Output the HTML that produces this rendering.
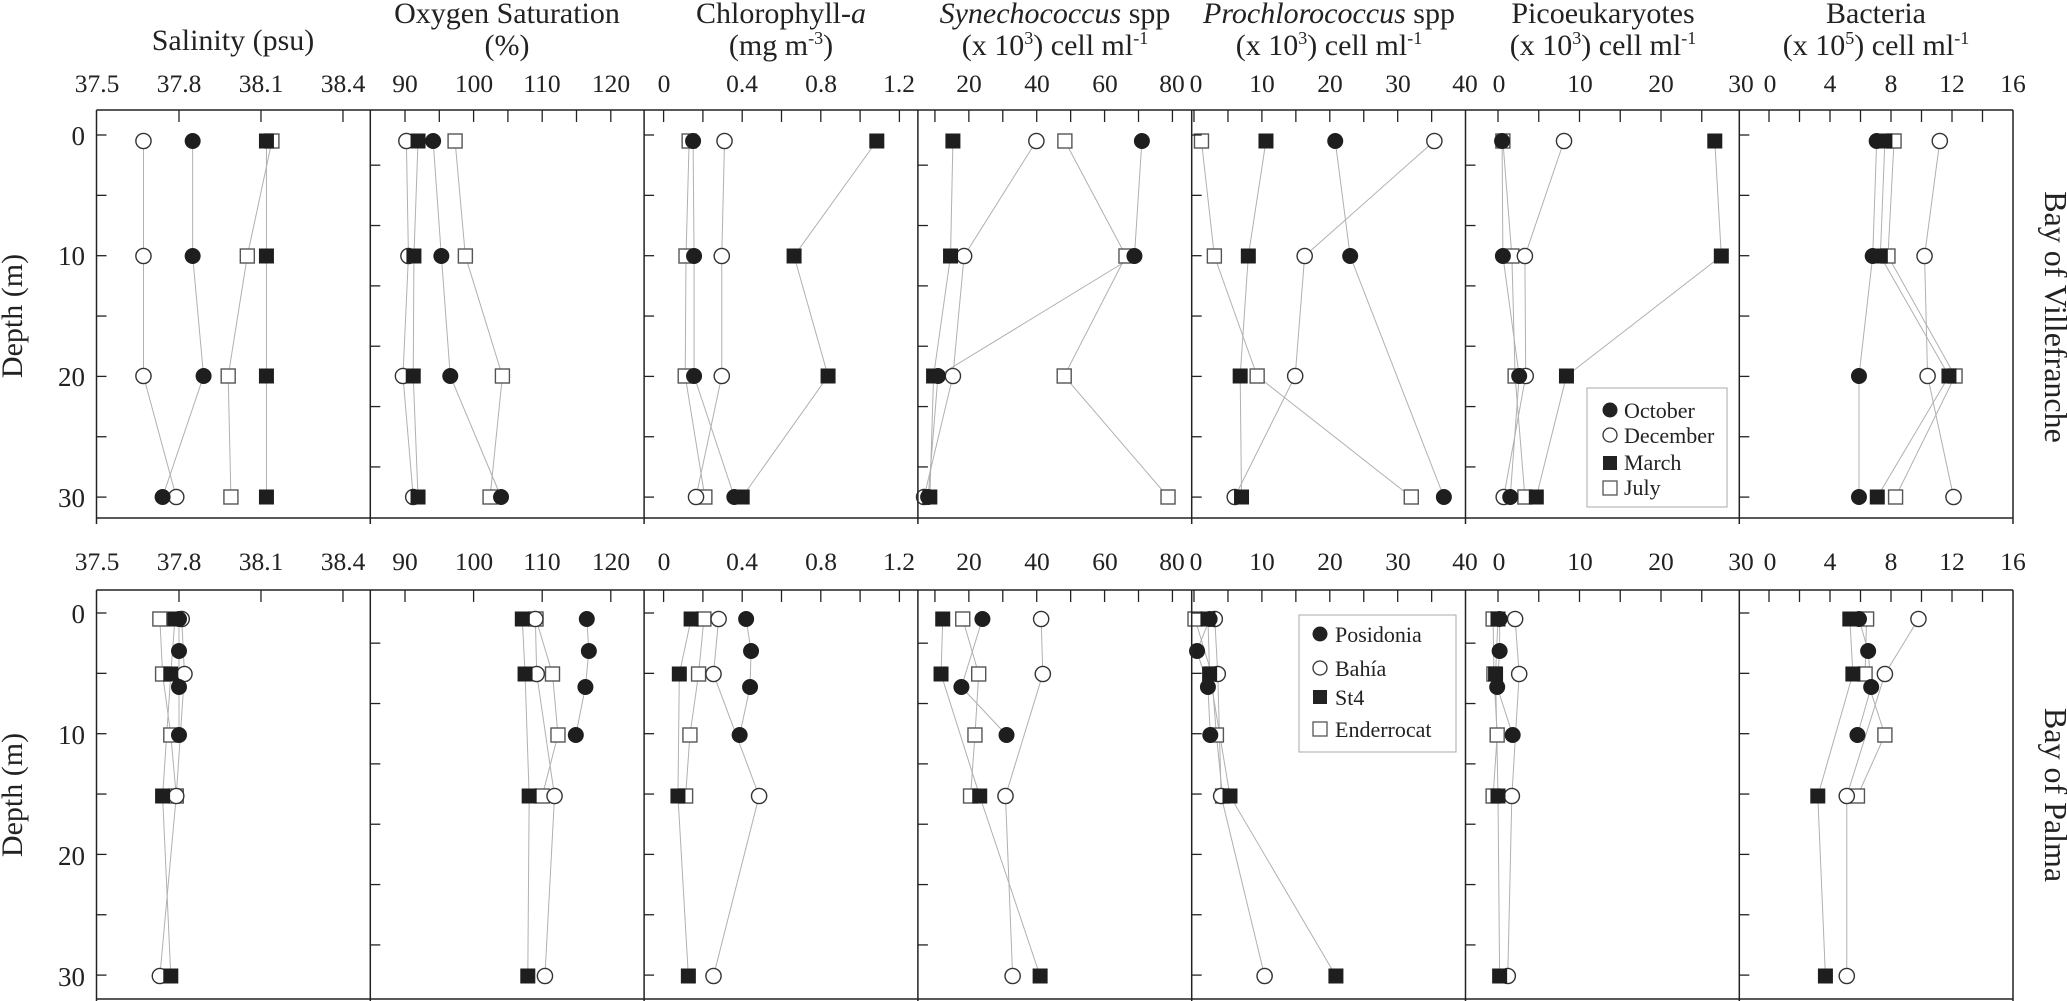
<!DOCTYPE html>
<html><head><meta charset="utf-8"><style>
html,body{margin:0;padding:0;background:#fff}
svg{display:block}
text{font-family:"Liberation Serif",serif;fill:#222}
.t{font-size:30px;text-anchor:middle}
.k{font-size:25.5px;text-anchor:middle}
.d{font-size:27px;text-anchor:end}
.l{font-size:22px}
</style></head><body>
<svg id="s" width="2067" height="1001" viewBox="0 0 2067 1001" xmlns="http://www.w3.org/2000/svg">
<rect width="2067" height="1001" fill="#fff"/>
<g id="lines"></g><g id="marks"></g><g id="axes"></g>
<text class="t" x="233" y="50">Salinity (psu)</text>
<text class="t" x="507" y="23">Oxygen Saturation</text>
<text class="t" x="507" y="55">(%)</text>
<text class="t" x="781" y="23">Chlorophyll-<tspan font-style="italic">a</tspan></text>
<text class="t" x="781" y="55">(mg m<tspan font-size="18" dy="-11">-3</tspan><tspan dy="11">)</tspan></text>
<text class="t" x="1055" y="23"><tspan font-style="italic">Synechococcus</tspan> spp</text>
<text class="t" x="1055" y="55">(x 10<tspan font-size="18" dy="-11">3</tspan><tspan dy="11">) cell ml</tspan><tspan font-size="18" dy="-11">-1</tspan></text>
<text class="t" x="1329" y="23"><tspan font-style="italic">Prochlorococcus</tspan> spp</text>
<text class="t" x="1329" y="55">(x 10<tspan font-size="18" dy="-11">3</tspan><tspan dy="11">) cell ml</tspan><tspan font-size="18" dy="-11">-1</tspan></text>
<text class="t" x="1603" y="23">Picoeukaryotes</text>
<text class="t" x="1603" y="55">(x 10<tspan font-size="18" dy="-11">3</tspan><tspan dy="11">) cell ml</tspan><tspan font-size="18" dy="-11">-1</tspan></text>
<text class="t" x="1876" y="23">Bacteria</text>
<text class="t" x="1876" y="55">(x 10<tspan font-size="18" dy="-11">5</tspan><tspan dy="11">) cell ml</tspan><tspan font-size="18" dy="-11">-1</tspan></text>
<g transform="translate(0,92)">
<text class="k" x="97">37.5</text><text class="k" x="179">37.8</text><text class="k" x="261">38.1</text><text class="k" x="343">38.4</text>
<text class="k" x="405">90</text><text class="k" x="474">100</text><text class="k" x="542">110</text><text class="k" x="611">120</text>
<text class="k" x="664">0</text><text class="k" x="742">0.4</text><text class="k" x="821">0.8</text><text class="k" x="899">1.2</text>
<text class="k" x="969">20</text><text class="k" x="1037">40</text><text class="k" x="1105">60</text><text class="k" x="1172">80</text>
<text class="k" x="1196">0</text><text class="k" x="1262">10</text><text class="k" x="1330">20</text><text class="k" x="1398">30</text><text class="k" x="1465">40</text>
<text class="k" x="1499">0</text><text class="k" x="1580">10</text><text class="k" x="1661">20</text><text class="k" x="1741">30</text>
<text class="k" x="1770">0</text><text class="k" x="1830">4</text><text class="k" x="1891">8</text><text class="k" x="1952">12</text><text class="k" x="2013">16</text>
</g>
<g transform="translate(0,570)">
<text class="k" x="97">37.5</text><text class="k" x="179">37.8</text><text class="k" x="261">38.1</text><text class="k" x="343">38.4</text>
<text class="k" x="405">90</text><text class="k" x="474">100</text><text class="k" x="542">110</text><text class="k" x="611">120</text>
<text class="k" x="664">0</text><text class="k" x="742">0.4</text><text class="k" x="821">0.8</text><text class="k" x="899">1.2</text>
<text class="k" x="969">20</text><text class="k" x="1037">40</text><text class="k" x="1105">60</text><text class="k" x="1172">80</text>
<text class="k" x="1196">0</text><text class="k" x="1262">10</text><text class="k" x="1330">20</text><text class="k" x="1398">30</text><text class="k" x="1465">40</text>
<text class="k" x="1499">0</text><text class="k" x="1580">10</text><text class="k" x="1661">20</text><text class="k" x="1741">30</text>
<text class="k" x="1770">0</text><text class="k" x="1830">4</text><text class="k" x="1891">8</text><text class="k" x="1952">12</text><text class="k" x="2013">16</text>
</g>
<text class="d" x="85" y="145">0</text><text class="d" x="85" y="265">10</text><text class="d" x="85" y="386">20</text><text class="d" x="85" y="507">30</text>
<text class="d" x="85" y="623">0</text><text class="d" x="85" y="744">10</text><text class="d" x="85" y="865">20</text><text class="d" x="85" y="986">30</text>
<text class="t" transform="translate(22,316) rotate(-90)">Depth (m)</text>
<text class="t" transform="translate(22,795) rotate(-90)">Depth (m)</text>
<text class="t" style="font-size:32px" transform="translate(2045,317) rotate(90)">Bay of Villefranche</text>
<text class="t" style="font-size:32px" transform="translate(2045,795) rotate(90)">Bay of Palma</text>
<rect x="1587" y="388" width="140" height="119" fill="#fff" stroke="#aaa" stroke-width="1"/>
<circle cx="1610" cy="410" r="7.5" fill="#222"/><text class="l" x="1624" y="418">October</text>
<circle cx="1610" cy="435" r="7" fill="#fff" stroke="#333" stroke-width="1.3"/><text class="l" x="1624" y="443">December</text>
<rect x="1603" y="456" width="14" height="14" fill="#222"/><text class="l" x="1624" y="470">March</text>
<rect x="1603" y="481" width="14" height="14" fill="#fff" stroke="#555" stroke-width="1.3"/><text class="l" x="1624" y="495">July</text>
<rect x="1299" y="615" width="157" height="137" fill="#fff" stroke="#aaa" stroke-width="1"/>
<circle cx="1320" cy="634" r="7.5" fill="#222"/><text class="l" x="1335" y="642">Posidonia</text>
<circle cx="1320" cy="668" r="7" fill="#fff" stroke="#333" stroke-width="1.3"/><text class="l" x="1335" y="676">Bahía</text>
<rect x="1313" y="690" width="14" height="14" fill="#222"/><text class="l" x="1335" y="705">St4</text>
<rect x="1313" y="722" width="14" height="14" fill="#fff" stroke="#555" stroke-width="1.3"/><text class="l" x="1335" y="737">Enderrocat</text>
</svg>
<script>
(function(){
const NS="http://www.w3.org/2000/svg";
function el(p,t,a){const e=document.createElementNS(NS,t);for(const k in a)e.setAttribute(k,a[k]);p.appendChild(e);return e;}
const L=document.getElementById('lines'),M=document.getElementById('marks'),A=document.getElementById('axes');
const X0=96.5,W=273.8,R=2013;
const maps=[v=>97+273.3*(v-37.5),v=>405+6.86*(v-90),v=>663.6+196.5*v,v=>901+3.393*v,v=>1194+6.79*v,v=>1498+8.15*v,v=>1769+15.25*v];
const rows=[{top:110,bot:518,d0:135,yd:{0:141,10:256,20:376,30:497}},{top:590,bot:999,d0:613,yd:{0:619,2.5:651,5:674,6:687,10:735,15:796,30:976}}];
const xt=[[[37.8,38.1,38.4]],[[90,95,100,105,110,115,120],[90,100,110,120]],[[0,.2,.4,.6,.8,1,1.2]],[[10,20,30,40,50,60,70,80]],[[0,5,10,15,20,25,30,35]],[[0,5,10,15,20,25]],[[0,2,4,6,8,10,12,14]]];
rows.forEach((r,ri)=>{
 for(let i=0;i<7;i++){
  const x=X0+W*i;
  el(A,'line',{x1:x,y1:r.top,x2:x,y2:r.bot,stroke:'#222','stroke-width':1.5});
  el(A,'line',{x1:x,y1:r.bot,x2:x,y2:r.bot+6,stroke:'#222','stroke-width':1.5});
  const off=(i%2==0)?0:2.5;
  for(let d=off-5;d<=32;d+=5){const y=r.d0+12.07*d;if(y>r.top+3&&y<r.bot-3)el(A,'line',{x1:x,y1:y,x2:x+10,y2:y,stroke:'#222','stroke-width':1.3});}
  const tv=xt[i][ri]||xt[i][0];
  tv.forEach(v=>{const tx=maps[i](v);el(A,'line',{x1:tx,y1:r.top,x2:tx,y2:r.top+12,stroke:'#222','stroke-width':1.3});});
 }
 el(A,'line',{x1:R,y1:r.top,x2:R,y2:r.bot,stroke:'#222','stroke-width':1.5});
 el(A,'line',{x1:R,y1:r.bot,x2:R,y2:r.bot+6,stroke:'#222','stroke-width':1.5});
 el(A,'line',{x1:X0,y1:r.top,x2:R,y2:r.top,stroke:'#222','stroke-width':1.5});
 el(A,'line',{x1:X0,y1:r.bot,x2:R,y2:r.bot,stroke:'#222','stroke-width':1.5});
});
const D4=[0,10,20,30];
function z(vals,ds){return vals.map((v,k)=>[v,ds[k]]);}
const topD=[
 {fc:z([37.85,37.85,37.89,37.74],D4),oc:z([37.67,37.67,37.67,37.79],D4),fs:z([38.12,38.12,38.12,38.12],D4),os:z([38.14,38.05,37.98,37.99],D4)},
 {fc:z([94.1,95.3,96.6,104],D4),oc:z([90.2,90.5,89.7,91.2],D4),fs:z([91.9,91.3,91.2,91.9],D4),os:z([97.3,98.8,104.2,102.4],D4)},
 {fc:z([.15,.155,.155,.36],D4),oc:z([.31,.296,.296,.165],D4),fs:z([1.085,.664,.837,.40],D4),os:z([.13,.114,.11,.21],D4)},
 {fc:z([71,68.8,10.9,8],D4),oc:z([39.9,18.6,15.3,6.8],D4),fs:z([15.3,14.6,9.6,8.5],D4),os:z([48.3,66.3,48.1,78.7],D4)},
 {fc:z([20.8,23,36.8],[0,10,30]),oc:z([35.4,16.3,14.9,6.0],D4),fs:z([10.6,8,6.8,7],D4),os:z([1.1,3,9.3,32],D4)},
 {fc:z([.5,.6,2.6,1.5],D4),oc:z([8.1,3.3,3.4,.7],D4),fs:z([26.6,27.4,8.4,4.7],D4),os:z([.6,1.7,2.1,3.3],D4)},
 {fc:z([7.06,6.8,5.9,5.9],D4),oc:z([11.2,10.2,10.4,12.1],D4),fs:z([7.6,7.3,11.8,7.1],D4),os:z([8.2,7.8,12.2,8.3],D4)}];
const P=[0,2.5,6,10],S=[0,5,15,30],E=[0,5,10,15];
const botD=[
 {fc:z([37.8,37.8,37.8,37.8],P),oc:z([37.81,37.82,37.79,37.73],S),fs:z([37.785,37.77,37.74,37.77],S),os:z([37.73,37.74,37.77,37.79],E)},
 {fc:z([116.5,116.8,116.3,114.9],P),oc:z([109,109.2,111.8,110.4],S),fs:z([107.1,107.5,108.1,107.9],S),os:z([109.1,111.5,112.3,110],E)},
 {fc:z([.42,.445,.44,.387],P),oc:z([.28,.254,.486,.254],S),fs:z([.14,.08,.073,.126],S),os:z([.205,.178,.134,.112],E)},
 {fc:z([24,17.8,31.1],[0,6,10]),oc:z([41.3,41.8,30.8,32.9],S),fs:z([12.3,11.8,23.2,41],S),os:z([18.2,22.9,21.8,20.5],E)},
 {fc:z([2.3,.45,2.05,2.4],P),oc:z([3.06,3.5,4,10.4],S),fs:z([2.05,2.3,5.3,20.9],S),os:z([.15,2.6,3.3,4.2],E)},
 {fc:z([.2,.2,-.1,1.8],P),oc:z([2.1,2.6,1.7,1.2],S),fs:z([0,-.3,0,.2],S),os:z([-.6,-.5,-.1,-.6],E)},
 {fc:z([5.9,6.5,6.7,5.8],P),oc:z([9.8,7.6,5.1,5.1],S),fs:z([5.3,5.5,3.2,3.7],S),os:z([6.4,6.3,7.6,5.8],E)}];
const order=['os','oc','fs','fc'];
[topD,botD].forEach((data,ri)=>{
 const yd=rows[ri].yd;
 data.forEach((pd,i)=>{
  order.forEach(t=>{const pts=pd[t].map(([v,d])=>[maps[i](v),yd[d]]);
   el(L,'polyline',{points:pts.map(p=>p.join(',')).join(' '),fill:'none',stroke:'#b0b0b0','stroke-width':1});});
  order.forEach(t=>{pd[t].forEach(([v,d])=>{const x=maps[i](v),y=yd[d];
   if(t=='fc')el(M,'circle',{cx:x,cy:y,r:8,fill:'#1e1e1e'});
   else if(t=='oc')el(M,'circle',{cx:x,cy:y,r:7.6,fill:'#fff',stroke:'#333','stroke-width':1.4});
   else if(t=='fs')el(M,'rect',{x:x-7.5,y:y-7.5,width:15,height:15,fill:'#1e1e1e'});
   else el(M,'rect',{x:x-7,y:y-7,width:14,height:14,fill:'#fff',stroke:'#555','stroke-width':1.4});});});
 });
});
})();
</script>
</body></html>
